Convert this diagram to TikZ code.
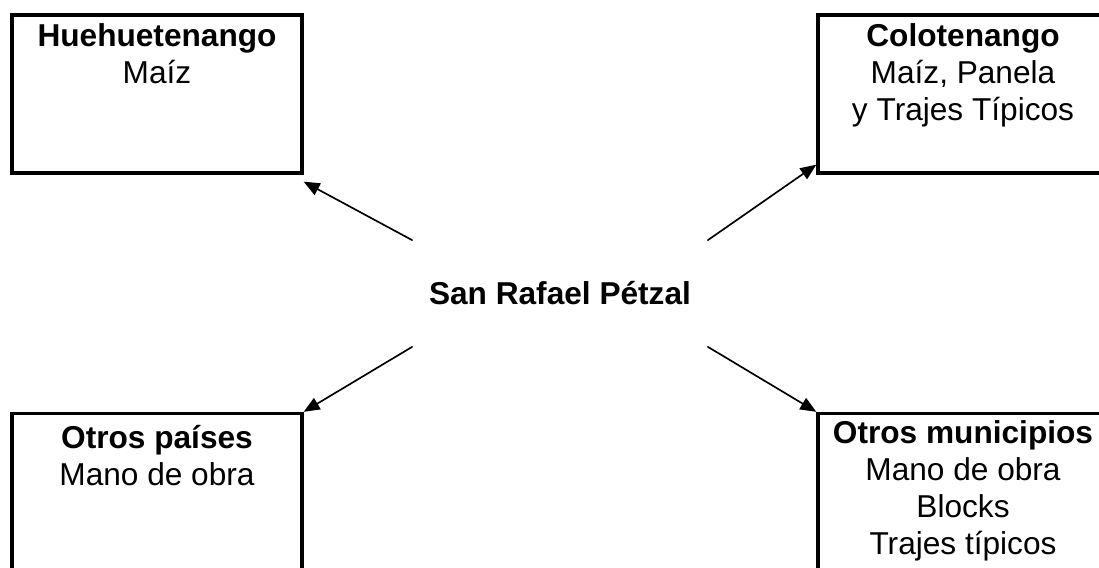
\documentclass[tikz,border=0pt]{standalone}
\usepackage{fontspec}
\setmainfont{Liberation Sans}
\usepackage{tikz}
\usetikzlibrary{arrows.meta,positioning}

\begin{document}
\begin{tikzpicture}[line cap=round,line join=round,>={Triangle[length=0.32cm,width=0.26cm]},x=1.0cm,y=1.0cm,
	caja/.style={draw,line width=1.9pt,line cap=butt,line join=miter,minimum width=5.8cm,minimum height=3.16cm,inner sep=0pt},
	texto/.style={inner sep=0pt,align=center,font=\fontsize{18}{21}\selectfont},
	flecha/.style={->,line width=0.95pt}]
	\useasboundingbox (0.,0.) rectangle (21.98,11.34);
	\clip (0.,0.) rectangle (21.98,11.34);
	% cajas
	\node[caja] (hue) at (3.14,9.46) {};
	\node[caja] (colo) at (19.26,9.46) {};
	\node[caja] (paises) at (3.14,1.49) {};
	\node[caja] (munis) at (19.26,1.49) {};
	\node[texto,below=0.2cm of hue.north] (hueT) {\textbf{Huehuetenango}\\Maíz};
	\node[texto,below=0.2cm of colo.north] (coloT) {\textbf{Colotenango}\\Maíz, Panela\\y Trajes Típicos};
	\node[texto,below=0.26cm of paises.north] (paisesT) {\textbf{Otros países}\\Mano de obra};
	\node[texto,below=0.17cm of munis.north] (munisT) {\textbf{Otros municipios}\\Mano de obra\\Blocks\\Trajes típicos};
	% centro
	\node[texto,minimum width=5.9cm,minimum height=2.12cm] (sanrafael) at (11.2,5.47) {\textbf{San Rafael Pétzal}};
	\draw[flecha] (sanrafael.north west) -- ([yshift=-0.14cm]hue.south east);
	\draw[flecha] (sanrafael.north east) -- ([yshift=0.2cm]colo.south west);
	\draw[flecha] (sanrafael.south west) -- (paises.north east);
	\draw[flecha] (sanrafael.south east) -- (munis.north west);
	%\draw (sanrafael.north west) rectangle (sanrafael.south east);
\end{tikzpicture}
\end{document}
